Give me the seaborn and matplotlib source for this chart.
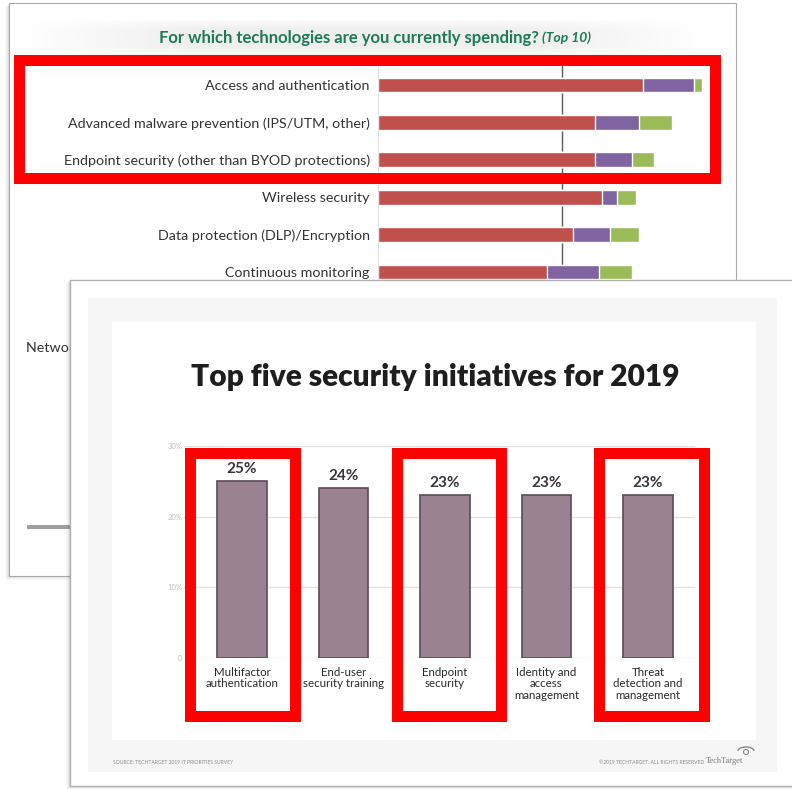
import numpy as np
import pandas as pd
import matplotlib
matplotlib.use("Agg")
import matplotlib.pyplot as plt
from matplotlib.patches import Rectangle, Arc, Circle
from matplotlib.colors import LinearSegmentedColormap
import seaborn as sns

# ---------------- data ----------------
back_title = "For which technologies are you currently spending?"
back_title_suffix = "(Top 10)"
back_categories = ["Access and authentication",
                   "Advanced malware prevention (IPS/UTM, other)",
                   "Endpoint security (other than BYOD protections)",
                   "Wireless security",
                   "Data protection (DLP)/Encryption",
                   "Continuous monitoring"]
back_red = [72, 59, 59, 61, 53, 46]
back_purple = [14, 12, 10, 4, 10, 14]
back_green = [2, 9, 6, 5, 8, 9]
back_hidden_label = "Network security"

front_title = "Top five security initiatives for 2019"
front_categories = ["Multifactor\nauthentication", "End-user\nsecurity training",
                    "Endpoint\nsecurity", "Identity and\naccess\nmanagement",
                    "Threat\ndetection and\nmanagement"]
front_values = [25, 24, 23, 23, 23]
front_ticks = [0, 10, 20, 30]
front_tick_labels = ["0", "10%", "20%", "30%"]
source_text = "SOURCE: TECHTARGET 2019 IT PRIORITIES SURVEY"
copyright_text = "\u00a92019 TECHTARGET. ALL RIGHTS RESERVED"
brand_text = "TechTarget"

# ---------------- style ----------------
sns.set_style("white")
plt.rcParams["font.family"] = ["Lato", "DejaVu Sans"]

W, H = 792, 789
fig = plt.figure(figsize=(W / 100, H / 100), dpi=100)
fig.patch.set_facecolor("white")


def fx(x):
    return x / W


def fy(y):
    return 1 - y / H


def rect(x0, y0, x1, y1, **kw):
    r = Rectangle((x0 / W, 1 - y1 / H), (x1 - x0) / W, (y1 - y0) / H,
                  transform=fig.transFigure, **kw)
    fig.add_artist(r)
    return r


def axes_px(x0, y0, x1, y1, **kw):
    return fig.add_axes([x0 / W, 1 - y1 / H, (x1 - x0) / W, (y1 - y0) / H], **kw)


RED = "#c0504d"
PURPLE = "#8064a2"
GREEN = "#9bbb59"
HILITE = "#fe0000"

# ---------------- back slide ----------------
for i, a in enumerate([0.05, 0.04, 0.03, 0.02]):
    rect(9 - i - 1, 3 + i + 1, 736 - i, 576 + i + 1, facecolor="black", alpha=a,
         edgecolor="none", zorder=0.05)
rect(9, 3, 736, 576, facecolor="white", edgecolor="#a8a8a8", lw=0.8, zorder=0.1)

# soft title band
axg = axes_px(20, 20, 704, 56, zorder=0.15)
grad = np.concatenate([np.linspace(0, 1, 60), np.ones(120), np.linspace(1, 0, 60)])
band = np.outer(np.concatenate([np.linspace(0.3, 1, 6), np.ones(8), np.linspace(1, 0.3, 6)]), grad)
cmap = LinearSegmentedColormap.from_list("band", ["#ffffff", "#efefef"])
axg.imshow(band, aspect="auto", cmap=cmap, vmin=0, vmax=1, interpolation="bilinear")
axg.axis("off")

fig.text(fx(539), fy(38), back_title, ha="right", va="center", fontsize=12,
         fontweight="bold", color="#1e7b55", zorder=0.2)
fig.text(fx(542), fy(38), back_title_suffix, ha="left", va="center", fontsize=10,
         fontweight="bold", fontstyle="italic", color="#1e7b55", zorder=0.2)
fig.text(fx(26), fy(348), back_hidden_label, ha="left", va="center", fontsize=10.3,
         color="#333333", zorder=0.2)
rect(27, 525, 75, 529, facecolor="#a0a0a0", edgecolor="none", zorder=0.2)

df_back = pd.DataFrame({"cat": back_categories, "red": back_red,
                        "purple": back_purple, "green": back_green})
df_back["rp"] = df_back["red"] + df_back["purple"]
df_back["total"] = df_back["rp"] + df_back["green"]

axb = axes_px(378, 66.3, 378 + 95 * 3.68, 290.7, zorder=1)
axb.set_facecolor("none")
sns.barplot(data=df_back, x="total", y="cat", color=GREEN, orient="h", width=0.4,
            saturation=1, errorbar=None, ax=axb)
sns.barplot(data=df_back, x="rp", y="cat", color=PURPLE, orient="h", width=0.4,
            saturation=1, errorbar=None, ax=axb)
sns.barplot(data=df_back, x="red", y="cat", color=RED, orient="h", width=0.4,
            saturation=1, errorbar=None, ax=axb)
axb.axvline(50, color="#5a5a5a", lw=1, zorder=0.5)
axb.set_xlim(0, 95)
axb.set_ylim(5.5, -0.5)
axb.set_xlabel("")
axb.set_ylabel("")
axb.set_xticks([])
for s in ["top", "right", "bottom"]:
    axb.spines[s].set_visible(False)
axb.spines["left"].set_color("#e2e2e2")
axb.tick_params(axis="y", length=0, pad=6, labelsize=10.3, labelcolor="#333333")

rect(18.5, 59.5, 714.5, 177.5, facecolor="none", edgecolor=HILITE, lw=7.9,
     joinstyle="miter", zorder=2)

# ---------------- front slide ----------------
for i, a in enumerate([0.06, 0.045, 0.03, 0.02]):
    rect(70 - i - 1, 280 + i, 800, 786 + i + 1, facecolor="black", alpha=a,
         edgecolor="none", zorder=2.9)
rect(70, 280, 800, 786, facecolor="white", edgecolor="#b0b0b0", lw=1, zorder=3)
rect(88, 298, 777, 772, facecolor="#f6f6f6", edgecolor="none", zorder=3.1)
rect(112, 322, 756, 740, facecolor="white", edgecolor="none", zorder=3.2)

fig.text(fx(435), fy(377), front_title, ha="center", va="center", fontsize=21.5,
         fontweight="heavy", color="#1e1e1e", zorder=4.5)

df_front = pd.DataFrame({"cat": front_categories, "val": front_values})
axf = axes_px(184, 446, 695, 658, zorder=4)
axf.set_facecolor("none")
sns.barplot(data=df_front, x="cat", y="val", color="#9a8290", edgecolor="#5b4a56",
            linewidth=1.2, width=0.49, saturation=1, errorbar=None, ax=axf)
axf.bar_label(axf.containers[0], labels=[f"{v}%" for v in front_values], padding=4,
              fontsize=11, fontweight="bold", color="#3b3340")
axf.set_xlim(-0.571, 4.463)
axf.set_ylim(0, 30)
axf.set_yticks(front_ticks)
axf.set_yticklabels(front_tick_labels)
axf.yaxis.grid(True, color="#e2e2e2", lw=1)
axf.set_axisbelow(True)
axf.set_xlabel("")
axf.set_ylabel("")
for s in axf.spines.values():
    s.set_visible(False)
axf.tick_params(axis="y", length=0, pad=1, labelsize=5.5, labelcolor="#bdbdbd")
axf.tick_params(axis="x", length=0, pad=6.5, labelsize=8.3, labelcolor="#2a2a2a")
for t in axf.get_xticklabels():
    t.set_linespacing(1.05)

fig.text(fx(113), fy(762), source_text, ha="left", va="center", fontsize=3.6,
         color="#8a8a8a", zorder=4.5)
fig.text(fx(704), fy(762), copyright_text, ha="right", va="center", fontsize=3.6,
         color="#8a8a8a", zorder=4.5)
fig.text(fx(706), fy(761), brand_text, ha="left", va="center", fontsize=6,
         family=["Liberation Serif", "DejaVu Serif"], color="#777777", zorder=4.5)
fig.add_artist(Arc((fx(746), fy(751)), 16 / W, 8 / H, theta1=0, theta2=180,
                   transform=fig.transFigure, color="#888888", lw=1, zorder=4.5))
fig.add_artist(Circle((fx(746), fy(752)), 2.5 / W, transform=fig.transFigure,
                      facecolor="none", edgecolor="#888888", lw=0.8, zorder=4.5))

for x0, x1 in [(189.5, 294.5), (396.5, 500.5), (598.5, 703.5)]:
    rect(x0, 452.5, x1, 715.5, facecolor="none", edgecolor=HILITE, lw=7.9,
         joinstyle="miter", zorder=5)

fig.savefig("out.png", dpi=100)
